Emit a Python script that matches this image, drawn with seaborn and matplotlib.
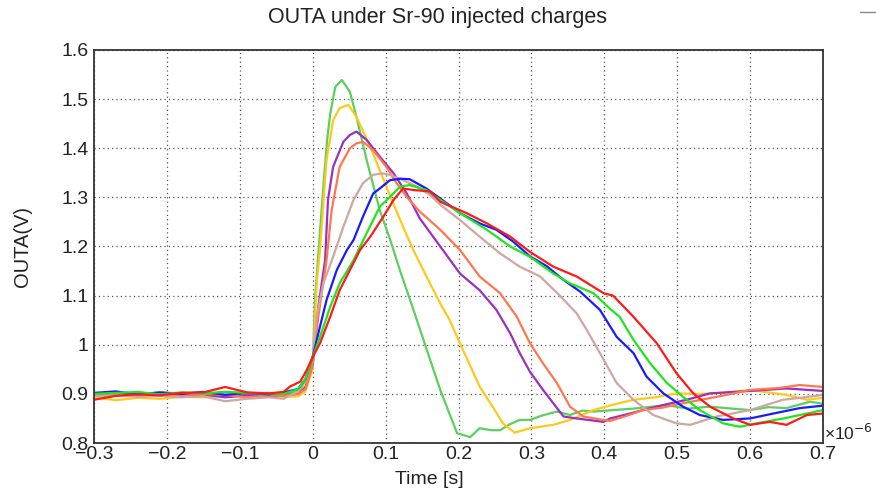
import numpy as np
import pandas as pd
import seaborn as sns
import matplotlib.pyplot as plt
from matplotlib.ticker import MultipleLocator, FuncFormatter
from matplotlib.lines import Line2D

# times in units of 1e-6 s, voltages in V
base_t = [-0.3, -0.27, -0.24, -0.21, -0.18, -0.15, -0.12, -0.09, -0.06, -0.04]

t_green1 = base_t + [-0.02, -0.01, 0.0, 0.003, 0.008, 0.010, 0.015, 0.020, 0.024, 0.031, 0.040, 0.051, 0.060, 0.074,
                     0.092, 0.106, 0.120, 0.138, 0.156, 0.175, 0.198, 0.216, 0.229, 0.245, 0.257, 0.270, 0.284,
                     0.298, 0.315, 0.335, 0.353, 0.370, 0.385, 0.412, 0.440, 0.486, 0.515, 0.545, 0.575, 0.600,
                     0.625, 0.650, 0.682, 0.700]
v_green1 = [0.900, 0.902, 0.898, 0.903, 0.901, 0.899, 0.904, 0.900, 0.902, 0.901,
            0.905, 0.915, 0.955, 1.090, 1.190, 1.230, 1.330, 1.420, 1.470, 1.525, 1.539, 1.515, 1.464, 1.376,
            1.274, 1.215, 1.150, 1.072, 0.992, 0.908, 0.820, 0.812, 0.830, 0.826, 0.826, 0.838, 0.847,
            0.847, 0.856, 0.864, 0.857, 0.866, 0.864, 0.867, 0.870, 0.877, 0.870, 0.874, 0.870, 0.867,
            0.873, 0.871, 0.884, 0.880]

t_yellow = base_t + [-0.02, -0.01, 0.0, 0.0055, 0.010, 0.0146, 0.019, 0.028, 0.037, 0.049, 0.060, 0.079, 0.101,
                     0.124, 0.138, 0.156, 0.175, 0.188, 0.202, 0.229, 0.248, 0.261, 0.277, 0.298, 0.330, 0.353,
                     0.385, 0.412, 0.440, 0.470, 0.499, 0.530, 0.563, 0.600, 0.650, 0.678, 0.700]
v_yellow = [0.893, 0.887, 0.892, 0.890, 0.894, 0.893, 0.896, 0.895, 0.897, 0.894,
            0.895, 0.905, 0.950, 1.125, 1.193, 1.288, 1.376, 1.457, 1.482, 1.488, 1.464, 1.403, 1.322,
            1.240, 1.193, 1.139, 1.084, 1.050, 1.003, 0.915, 0.871, 0.840, 0.821, 0.830, 0.837, 0.847,
            0.867, 0.878, 0.888, 0.893, 0.901, 0.900, 0.902, 0.908, 0.898, 0.888, 0.892]

t_purple = base_t + [-0.02, -0.01, 0.0, 0.008, 0.017, 0.021, 0.028, 0.042, 0.051, 0.060, 0.074, 0.092, 0.111,
                     0.129, 0.147, 0.175, 0.202, 0.229, 0.252, 0.271, 0.284, 0.298, 0.316, 0.330, 0.344, 0.362,
                     0.399, 0.408, 0.430, 0.453, 0.480, 0.513, 0.545, 0.600, 0.650, 0.700]
v_purple = [0.899, 0.897, 0.900, 0.898, 0.896, 0.899, 0.893, 0.897, 0.895, 0.898,
            0.900, 0.912, 0.960, 1.080, 1.172, 1.295, 1.362, 1.413, 1.427, 1.434, 1.417, 1.383, 1.349,
            1.308, 1.257, 1.200, 1.145, 1.111, 1.071, 1.023, 0.983, 0.945, 0.908, 0.881, 0.854, 0.850,
            0.843, 0.850, 0.858, 0.867, 0.877, 0.888, 0.901, 0.906, 0.911, 0.906]

t_coral = base_t + [-0.02, -0.01, 0.0, 0.008, 0.019, 0.026, 0.037, 0.051, 0.060, 0.069, 0.083, 0.101, 0.115,
                    0.129, 0.147, 0.175, 0.202, 0.229, 0.257, 0.280, 0.298, 0.316, 0.335, 0.353, 0.371, 0.394,
                    0.408, 0.430, 0.453, 0.480, 0.508, 0.554, 0.600, 0.640, 0.668, 0.700]
v_coral = [0.897, 0.900, 0.896, 0.899, 0.897, 0.900, 0.898, 0.893, 0.897, 0.896,
           0.900, 0.910, 0.960, 1.060, 1.172, 1.274, 1.362, 1.400, 1.410, 1.413, 1.396, 1.362, 1.329,
           1.301, 1.271, 1.234, 1.193, 1.139, 1.105, 1.057, 1.003, 0.962, 0.922, 0.874, 0.854, 0.848,
           0.845, 0.855, 0.867, 0.872, 0.881, 0.894, 0.908, 0.912, 0.918, 0.914]

t_brown = base_t + [-0.02, -0.01, 0.0, 0.0055, 0.0146, 0.028, 0.042, 0.056, 0.069, 0.083, 0.095, 0.106, 0.124,
                    0.143, 0.161, 0.175, 0.202, 0.229, 0.257, 0.284, 0.312, 0.339, 0.362, 0.376, 0.394, 0.417,
                    0.440, 0.467, 0.499, 0.518, 0.535, 0.554, 0.600, 0.645, 0.675, 0.700]
v_brown = [0.895, 0.897, 0.894, 0.896, 0.893, 0.895, 0.885, 0.890, 0.893, 0.890,
           0.905, 0.925, 0.975, 1.057, 1.125, 1.179, 1.240, 1.295, 1.329, 1.346, 1.349, 1.346, 1.335,
           1.322, 1.305, 1.285, 1.254, 1.220, 1.186, 1.159, 1.139, 1.100, 1.064, 1.030, 0.983, 0.922,
           0.888, 0.857, 0.840, 0.837, 0.845, 0.854, 0.867, 0.888, 0.893, 0.898]

t_blue = base_t + [-0.02, -0.01, 0.0, 0.010, 0.019, 0.033, 0.047, 0.056, 0.069, 0.083, 0.092, 0.106, 0.120,
                   0.133, 0.156, 0.184, 0.202, 0.229, 0.252, 0.275, 0.298, 0.321, 0.344, 0.367, 0.394, 0.417,
                   0.440, 0.458, 0.481, 0.508, 0.531, 0.563, 0.600, 0.632, 0.668, 0.700]
v_blue = [0.902, 0.905, 0.899, 0.903, 0.900, 0.904, 0.898, 0.902, 0.899, 0.903,
          0.910, 0.930, 0.975, 1.037, 1.091, 1.152, 1.193, 1.213, 1.261, 1.308, 1.318, 1.335, 1.338,
          1.337, 1.318, 1.288, 1.268, 1.247, 1.234, 1.210, 1.180, 1.160, 1.132, 1.108, 1.071, 1.016,
          0.983, 0.935, 0.901, 0.874, 0.857, 0.847, 0.850, 0.860, 0.871, 0.876]

t_green2 = base_t + [-0.02, -0.01, 0.0, 0.010, 0.024, 0.037, 0.056, 0.074, 0.092, 0.106, 0.120, 0.133, 0.156,
                     0.175, 0.202, 0.239, 0.271, 0.298, 0.330, 0.353, 0.385, 0.408, 0.421, 0.440, 0.463, 0.486,
                     0.508, 0.531, 0.563, 0.586, 0.609, 0.646, 0.678, 0.700]
v_green2 = [0.900, 0.902, 0.904, 0.899, 0.903, 0.901, 0.904, 0.902, 0.901, 0.900,
            0.910, 0.930, 0.975, 1.016, 1.077, 1.125, 1.172, 1.227, 1.281, 1.301, 1.322, 1.325, 1.315,
            1.295, 1.268, 1.234, 1.200, 1.179, 1.145, 1.125, 1.105, 1.073, 1.057, 1.010, 0.962, 0.922,
            0.894, 0.867, 0.840, 0.833, 0.840, 0.850, 0.860, 0.867]

t_red = base_t + [-0.031, -0.017, -0.008, 0.0, 0.010, 0.024, 0.037, 0.051, 0.065, 0.079, 0.097, 0.111, 0.124,
                  0.138, 0.161, 0.175, 0.211, 0.239, 0.271, 0.298, 0.330, 0.362, 0.399, 0.412, 0.440, 0.472,
                  0.499, 0.522, 0.545, 0.577, 0.600, 0.627, 0.650, 0.678, 0.700]
v_red = [0.888, 0.896, 0.899, 0.897, 0.902, 0.903, 0.914, 0.903, 0.901, 0.904,
         0.915, 0.925, 0.949, 0.975, 1.003, 1.057, 1.111, 1.152, 1.193, 1.220, 1.261, 1.295, 1.318,
         1.315, 1.312, 1.291, 1.268, 1.247, 1.220, 1.189, 1.159, 1.139, 1.105, 1.100, 1.057, 1.003,
         0.942, 0.901, 0.874, 0.850, 0.837, 0.843, 0.837, 0.857, 0.860]

names = ['green1', 'yellow', 'purple', 'coral', 'brown', 'blue', 'green2', 'red']
colors = ['#5ccf5c', '#ffc91a', '#9b2fbf', '#ff7650', '#cfa6a0', '#1a1aff', '#1ee61e', '#ff1a1a']
series_t = [t_green1, t_yellow, t_purple, t_coral, t_brown, t_blue, t_green2, t_red]
series_v = [v_green1, v_yellow, v_purple, v_coral, v_brown, v_blue, v_green2, v_red]

df = pd.concat([pd.DataFrame({'t': t, 'v': v, 'run': n}) for n, t, v in zip(names, series_t, series_v)],
               ignore_index=True)

sns.set_style('white')
plt.rcParams['font.family'] = ['Liberation Sans', 'DejaVu Sans']

fig = plt.figure(figsize=(8.76, 4.91), dpi=100)
ax = fig.add_axes([94 / 876, 1 - 443 / 491, 729 / 876, 393 / 491])

sns.lineplot(data=df, x='t', y='v', hue='run', hue_order=names, palette=dict(zip(names, colors)),
             estimator=None, sort=True, linewidth=1.6, legend=False, ax=ax)

ax.set_xlim(-0.3, 0.7)
ax.set_ylim(0.8, 1.6)
ax.xaxis.set_major_locator(MultipleLocator(0.1))
ax.xaxis.set_minor_locator(MultipleLocator(0.02))
ax.yaxis.set_major_locator(MultipleLocator(0.1))
ax.yaxis.set_minor_locator(MultipleLocator(0.02))
fmt = FuncFormatter(lambda x, p: f"{round(x, 3) + 0:g}".replace('-', '\u2212'))
ax.xaxis.set_major_formatter(fmt)
ax.yaxis.set_major_formatter(fmt)

ax.grid(True, which='major', color='#555555', linestyle=(0, (1, 2.5)), linewidth=0.9)
for s in ax.spines.values():
    s.set_color('#333333')
    s.set_linewidth(1.3)

ax.tick_params(axis='both', which='both', direction='in', top=False, right=False,
               color='#333333', width=1.2, labelsize=14, labelcolor='#222222')
ax.tick_params(axis='y', which='major', length=14, pad=4)
ax.tick_params(axis='y', which='minor', length=8)
ax.tick_params(axis='x', which='major', length=9.5, pad=2)
ax.tick_params(axis='x', which='minor', length=4.5)

ax.set_xlabel('Time [s]', fontsize=14, color='#222222')
ax.xaxis.set_label_coords(0.46, -0.07)
ax.set_ylabel('OUTA(V)', fontsize=14.5, color='#222222')
ax.yaxis.set_label_coords(-0.085, 0.5)
fig.text(0.5, 1 - 17 / 491, 'OUTA under Sr-90 injected charges', fontsize=15.5, color='#222222',
         ha='center', va='center')

ax.text(1.002, 0.0, '\u00d710$^{\u22126}$', transform=ax.transAxes, fontsize=12.5,
        ha='left', va='bottom', color='#222222')
fig.add_artist(Line2D([860 / 876, 1.0], [1 - 12 / 491, 1 - 12 / 491], color='#888888', linewidth=1.0))

fig.savefig('out.png', dpi=100, facecolor='white')
